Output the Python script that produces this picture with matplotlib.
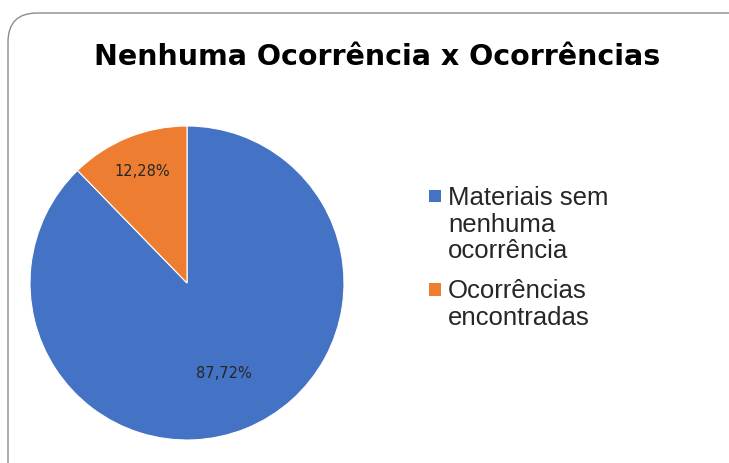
import matplotlib
matplotlib.use("Agg")
import matplotlib.pyplot as plt
import numpy as np
from matplotlib.patches import FancyBboxPatch, Rectangle

title = "Nenhuma Ocorrência x Ocorrências"
categories = ["Materiais sem\nnenhuma\nocorrência", "Ocorrências\nencontradas"]
values = [87.72, 12.28]
labels = ["87,72%", "12,28%"]
colors = ["#4472C4", "#ED7D31"]

W, H = 729, 463
fig = plt.figure(figsize=(W / 100, H / 100), dpi=100)

# rounded border
border = FancyBboxPatch((8 / W, -30 / H), (760 - 8) / W, (450 + 30) / H,
                        boxstyle="round,pad=0,rounding_size=0.04",
                        transform=fig.transFigure, fill=False,
                        edgecolor="#8c8c8c", linewidth=1.0, mutation_aspect=W / H)
fig.patches.append(border)

ax = fig.add_axes([0, 0, 1, 1])
cx, cy, r = 187, 463 - 283, 157
wedges, _ = ax.pie(values, colors=colors, startangle=90, counterclock=False,
                   center=(cx, cy), radius=r, frame=True,
                   wedgeprops=dict(edgecolor="white", linewidth=0.8))
ax.set_xlim(0, W)
ax.set_ylim(0, H)
ax.set_aspect("equal")
ax.axis("off")

dists = [0.62, 0.765]
for w, lab, d in zip(wedges, labels, dists):
    ang = np.deg2rad((w.theta1 + w.theta2) / 2)
    ax.text(cx + d * r * np.cos(ang), cy + d * r * np.sin(ang), lab,
            ha="center", va="center", fontsize=10.5, color="#262626",
            family="DejaVu Sans")

fig.text(377 / W, 1 - 57 / H, title, ha="center", va="center",
         fontsize=20.5, fontweight="bold", family="DejaVu Sans", color="black")

# legend (manual, square aligned with first line)
line_h = 26.5
gap = 20
base = 205  # first baseline, pixels from top
for cat, col in zip(categories, colors):
    ax.add_patch(Rectangle((429, H - base + 3), 12.5, 12.5, facecolor=col,
                           edgecolor="none"))
    for line in cat.split("\n"):
        ax.text(448, H - base, line, ha="left", va="baseline",
                fontsize=18.5, family="Liberation Sans", color="#262626")
        base += line_h
    base += gap - line_h + line_h - 6

fig.savefig("out.png", dpi=100)
